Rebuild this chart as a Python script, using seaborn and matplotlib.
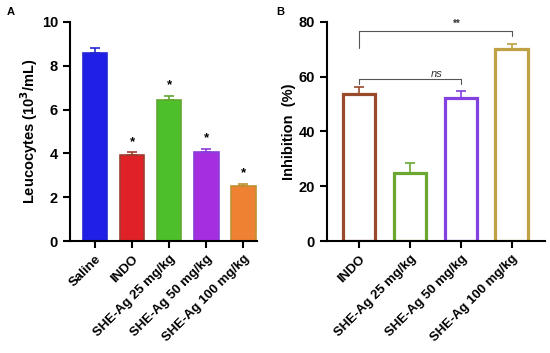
import numpy as np
import matplotlib
matplotlib.use("Agg")
import matplotlib.pyplot as plt
import seaborn as sns

sns.set_style("ticks")
plt.rcParams["font.family"] = ["Liberation Sans", "DejaVu Sans"]
plt.rcParams["font.weight"] = "bold"
plt.rcParams["text.color"] = "black"
plt.rcParams["axes.labelcolor"] = "black"
plt.rcParams["xtick.color"] = "black"
plt.rcParams["ytick.color"] = "black"
plt.rcParams["axes.edgecolor"] = "black"

# panel A data
groups_a = ["Saline", "INDO", "SHE-Ag 25 mg/kg", "SHE-Ag 50 mg/kg", "SHE-Ag 100 mg/kg"]
leuco = [8.6, 3.92, 6.42, 4.05, 2.5]
leuco_err = [0.23, 0.14, 0.2, 0.15, 0.11]
stars_a = ["", "*", "*", "*", "*"]
fill_a = ["#1f1fe8", "#e02228", "#4cbf2a", "#a52ee0", "#ee8232"]
edge_a = ["#2626d4", "#9a4030", "#62a830", "#8a3ed8", "#c09032"]

# panel B data
groups_b = ["INDO", "SHE-Ag 25 mg/kg", "SHE-Ag 50 mg/kg", "SHE-Ag 100 mg/kg"]
inhib = [53.6, 25.0, 52.3, 70.2]
inhib_err = [2.6, 3.4, 2.4, 1.8]
edge_b = ["#9a4a2c", "#6aa832", "#8440e0", "#c0a044"]

fig = plt.figure(figsize=(5.5, 3.53), dpi=100)
ax1 = fig.add_axes([0.127, 0.317, 0.34, 0.621])
ax2 = fig.add_axes([0.594, 0.317, 0.397, 0.621])

# ---- A ----
sns.barplot(x=groups_a, y=leuco, hue=groups_a, palette=fill_a, legend=False,
            width=0.67, saturation=1, ax=ax1)
for bar, ec in zip(ax1.patches, edge_a):
    bar.set_edgecolor(ec)
    bar.set_linewidth(1.2)
for i, (v, e, c) in enumerate(zip(leuco, leuco_err, edge_a)):
    ax1.errorbar(i, v, yerr=[[0], [e]], color=c, capsize=3.5, elinewidth=1.2, capthick=1.2)
    if stars_a[i]:
        ax1.text(i, v + e + 0.2, stars_a[i], ha="center", va="bottom", fontsize=9.5)
ax1.set_ylim(0, 10)
ax1.set_xlim(-0.68, 4.37)
ax1.set_yticks([0, 2, 4, 6, 8, 10])
ax1.set_ylabel("Leucocytes (10$^\\mathbf{3}$/mL)", fontsize=10.5, fontweight="bold",
               labelpad=1.5)

# ---- B ----
sns.barplot(x=groups_b, y=inhib, color="white", width=0.64, saturation=1, ax=ax2)
for bar, ec in zip(ax2.patches, edge_b):
    bar.set_edgecolor(ec)
    bar.set_linewidth(2.3)
    bar.set_facecolor("white")
for i, (v, e, c) in enumerate(zip(inhib, inhib_err, edge_b)):
    ax2.errorbar(i, v, yerr=[[0], [e]], color=c, capsize=3.5, elinewidth=1.2, capthick=1.2)
ax2.set_ylim(0, 80)
ax2.set_xlim(-0.64, 3.66)
ax2.set_yticks([0, 20, 40, 60, 80])
ax2.set_ylabel("Inhibition  (%)", fontsize=10.5, fontweight="bold", labelpad=2)

# significance brackets
br = "#555555"
ax2.plot([0, 0, 3, 3], [70.6, 76.8, 76.8, 74.8], color=br, lw=0.8)
ax2.text(1.93, 77.3, "**", ha="center", va="bottom", fontsize=7, color="#333333")
ax2.plot([0, 0, 2, 2], [57.2, 59.0, 59.0, 57.2], color=br, lw=0.8)
ax2.text(1.53, 59.3, "ns", ha="center", va="bottom", fontsize=8,
         style="italic", fontweight="normal", color="#333333")

for ax in (ax1, ax2):
    sns.despine(ax=ax)
    for s in ("left", "bottom"):
        ax.spines[s].set_linewidth(1.5)
    ax.tick_params(width=1.5, length=5, labelsize=10.5)
    ax.tick_params(axis="x", labelsize=9.5)
    for lab in ax.get_xticklabels():
        lab.set_rotation(45)
        lab.set_ha("right")
        lab.set_rotation_mode("anchor")
        lab.set_fontweight("bold")
    for lab in ax.get_yticklabels():
        lab.set_fontweight("bold")

fig.text(0.012, 0.965, "A", fontsize=8, fontweight="bold", va="center")
fig.text(0.503, 0.965, "B", fontsize=8, fontweight="bold", va="center")

fig.savefig("out.png", dpi=100)
